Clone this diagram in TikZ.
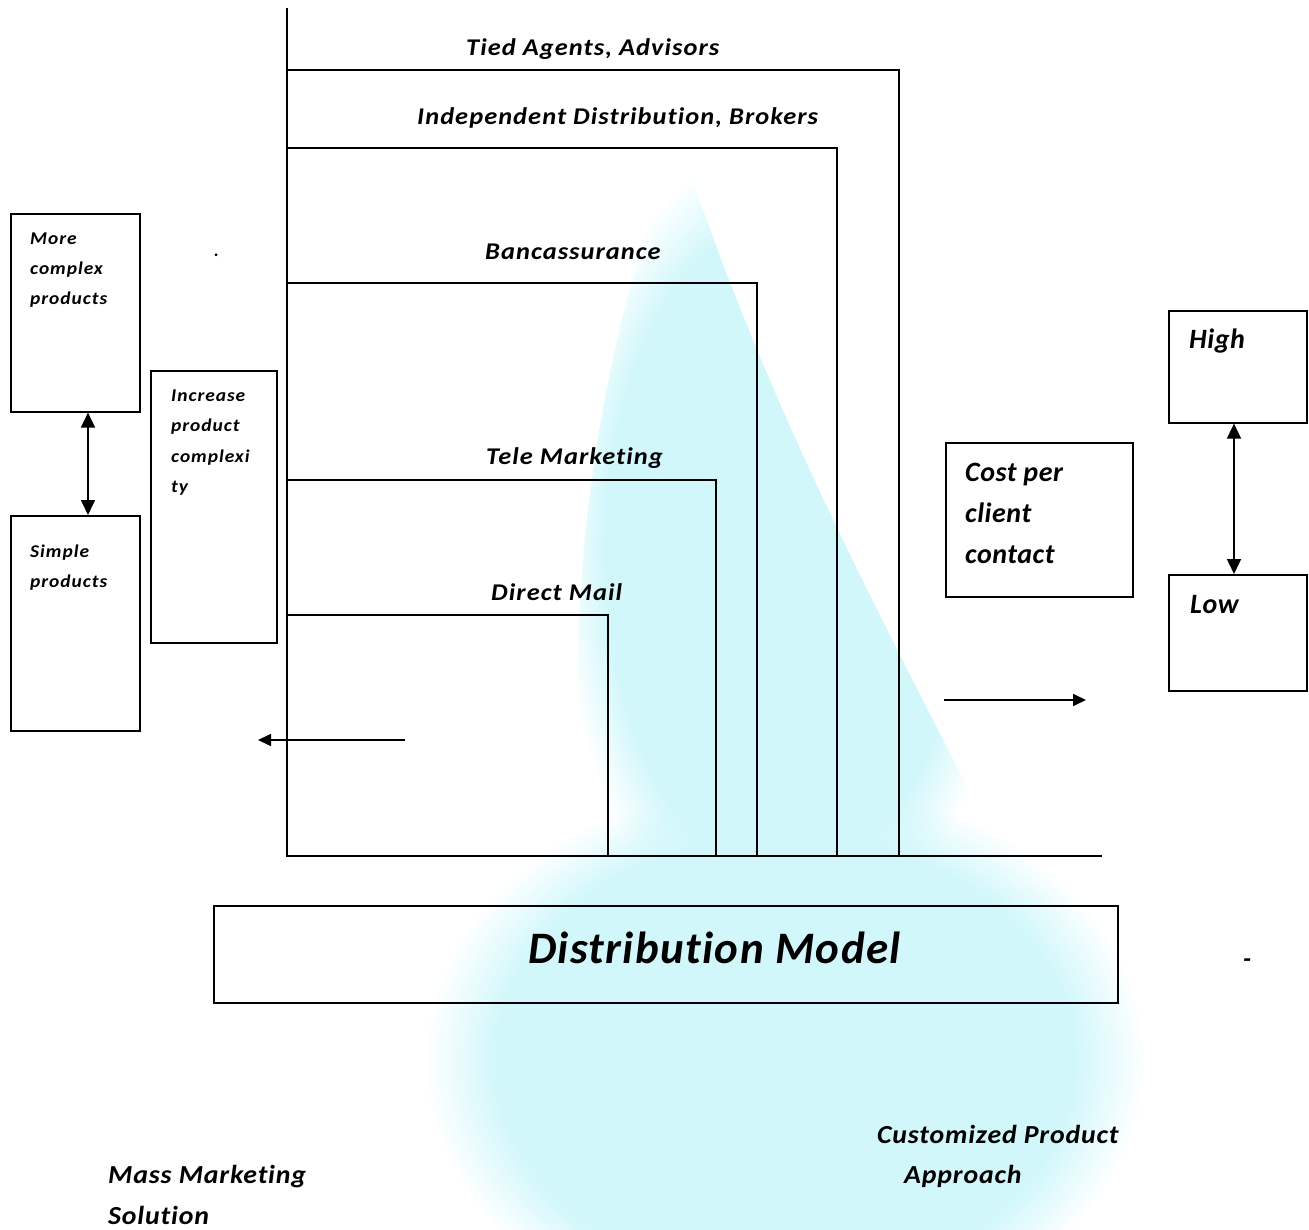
\documentclass[tikz,border=0pt]{standalone}
\usepackage{fontspec}
\setmainfont{Carlito}[Ligatures=NoCommon]
\usetikzlibrary{arrows.meta,calc,fadings}
\definecolor{wm}{RGB}{210,247,251}
\newcommand{\wideA}[1]{\scalebox{1.1}[1]{#1}}
\newcommand{\wideB}[1]{\scalebox{1.08}[1]{#1}}
\newcommand{\wideC}[1]{\scalebox{1.07}[1]{#1}}
\begin{document}
\begin{tikzpicture}[x=1pt,y=-1pt,
  every node/.style={font=\bfseries\itshape, inner sep=0pt},
  box/.style={draw, line width=1.6pt, anchor=north west, minimum width=#1},
  toplbl/.style={font=\fontsize{24}{28}\selectfont\bfseries\itshape\addfontfeature{LetterSpace=4}, anchor=base west},
  midlbl/.style={font=\fontsize{28}{32}\selectfont\bfseries\itshape\addfontfeature{LetterSpace=2}, anchor=base west},
  botlbl/.style={font=\fontsize{26}{30}\selectfont\bfseries\itshape\addfontfeature{LetterSpace=3}, anchor=base west},
  sml/.style={font=\fontsize{18}{22}\selectfont\bfseries\itshape\addfontfeature{LetterSpace=5}, anchor=base west},
  ln/.style={line width=1.6pt},
  dbl/.style={line width=1.6pt, {Triangle[length=15pt,width=14pt]}-{Triangle[length=15pt,width=14pt]}},
  arr/.style={line width=1.6pt, -{Triangle[length=13pt,width=12pt]}}]
\useasboundingbox (0,0) rectangle (1309,1230);
% watermark (faint background blob)
\fill[wm, path fading=circle with fuzzy edge 20 percent]
  (680,140) .. controls (600,330) and (560,600) .. (585,830)
  .. controls (650,960) and (900,960) .. (1010,870)
  .. controls (900,650) and (770,420) .. (680,140) -- cycle;
\fill[wm, path fading=circle with fuzzy edge 20 percent]
  (785,1060) ellipse [x radius=360, y radius=280];
% axes
\coordinate (top) at (287,8);
\coordinate (orig) at (287,856);
\coordinate (xend) at (1102,856);
\draw[ln] (top) -- (orig) -- (xend);
% brackets
\coordinate (tiedL) at (287,70);   \coordinate (tiedR) at (899,856);
\coordinate (indL) at (287,148);   \coordinate (indR) at (837,856);
\coordinate (banL) at (287,283);   \coordinate (banR) at (757,856);
\coordinate (telL) at (287,480);   \coordinate (telR) at (716,856);
\coordinate (dirL) at (287,615);   \coordinate (dirR) at (608,856);
\draw[ln] (tiedL) -| (tiedR);
\draw[ln] (indL) -| (indR);
\draw[ln] (banL) -| (banR);
\draw[ln] (telL) -| (telR);
\draw[ln] (dirL) -| (dirR);
\node[toplbl] (tied) at (466,56) {\wideA{Tied Agents, Advisors}};
\node[toplbl] (ind) at (417,125) {\wideA{Independent Distribution, Brokers}};
\node[toplbl] (ban) at (485,260) {\wideA{Bancassurance}};
\node[toplbl] (tel) at (486,464) {\wideA{Tele Marketing}};
\node[toplbl] (dir) at (491,600) {\wideA{Direct Mail}};
% left boxes
\node[box=129pt, minimum height=198pt] (more) at (10,213) {};
\node[sml] (more1) at (30,245) {\wideB{More}};
\node[sml] (more2) at (30,275) {\wideB{complex}};
\node[sml] (more3) at (30,305) {\wideB{products}};
\node[box=129pt, minimum height=215pt] (simple) at (10,515) {};
\node[sml] (simp1) at (30,557) {\wideB{Simple}};
\node[sml] (simp2) at (30,587) {\wideB{products}};
\coordinate (ax1) at (88,0);
\draw[dbl] (more.south -| ax1) -- (simple.north -| ax1);
\node[box=126pt, minimum height=272pt] (inc) at (150,370) {};
\node[sml] (inc1) at (171,401) {\wideB{Increase}};
\node[sml] (inc2) at (171,431) {\wideB{product}};
\node[sml] (inc3) at (171,462) {\wideB{complexi}};
\node[sml] (inc4) at (171,492) {\wideB{ty}};
\node[sml] (dot) at (214,257) {.};
% right boxes
\node[box=187pt, minimum height=154pt] (cost) at (945,442) {};
\node[midlbl] (cost1) at (965,481) {Cost per};
\node[midlbl] (cost2) at (965,522) {client};
\node[midlbl] (cost3) at (965,563) {contact};
\node[box=138pt, minimum height=112pt] (high) at (1168,310) {};
\node[midlbl] (hightxt) at (1189,349) {High};
\node[box=138pt, minimum height=116pt] (low) at (1168,574) {};
\node[midlbl] (lowtxt) at (1190,613) {Low};
\coordinate (ax2) at (1234,0);
\draw[dbl] (high.south -| ax2) -- (low.north -| ax2);
% distribution model
\node[box=904pt, minimum height=97pt] (dm) at (213,905) {};
\node[font=\fontsize{45}{50}\selectfont\bfseries\itshape\addfontfeature{LetterSpace=3}, anchor=base west] (dmtxt) at (528,963) {Distribution Model};
\node[botlbl] (dash) at (1243,967) {-};
% arrows
\coordinate (la1) at (405,740); \coordinate (la2) at (258,740);
\coordinate (ra1) at (944,700); \coordinate (ra2) at (1086,700);
\draw[arr] (la1) -- (la2);
\draw[arr] (ra1) -- (ra2);
\node[botlbl] (cust1) at (877,1143) {\wideC{Customized Product}};
\node[botlbl] (cust2) at (904,1183) {\wideC{Approach}};
\node[botlbl] (mass1) at (108,1183) {\wideC{Mass Marketing}};
\node[botlbl] (mass2) at (108,1224) {\wideC{Solution}};
\end{tikzpicture}
\end{document}
